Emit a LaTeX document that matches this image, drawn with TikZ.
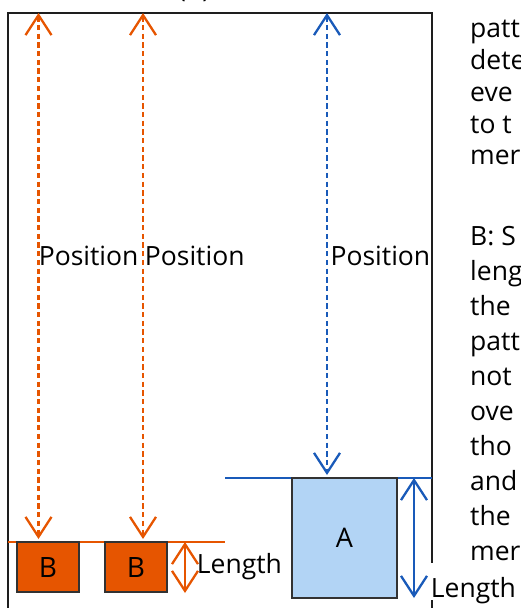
\documentclass[tikz,border=0pt]{standalone}
\usepackage{fontspec}
\setmainfont{Open Sans}
\usetikzlibrary{arrows.meta}
\definecolor{orng}{RGB}{230,85,0}
\definecolor{blu}{RGB}{25,90,185}
\definecolor{lblue}{RGB}{178,212,245}
\definecolor{frm}{RGB}{30,30,30}
\definecolor{boxedge}{RGB}{50,50,50}
\begin{document}
\begin{tikzpicture}[x=1pt,y=-1pt,
  barb/.tip={Straight Barb[length=20pt,width=26pt,line width=2.3pt]},
  frameline/.style={draw=frm,line width=1.8pt},
  posarrow/.style={line width=2.8pt,dash pattern=on 5.3pt off 3.4pt,{barb}-{barb}},
  lenarrow/.style={line width=2.3pt,{barb}-{barb}},
  levelline/.style={line width=2.4pt},
  bigfont/.style={font=\fontsize{26.5pt}{31pt}\selectfont},
  lab/.style={bigfont,inner sep=0pt,anchor=base west},
  rtext/.style={bigfont,inner sep=0pt,anchor=base west,text=black},
  bbox/.style={draw=boxedge,line width=1.5pt,fill=orng,inner sep=0pt,
    minimum width=62pt,minimum height=50pt,font=\fontsize{28pt}{32pt}\selectfont},
  abox/.style={draw=boxedge,line width=1.5pt,fill=lblue,inner sep=0pt,
    minimum width=105pt,minimum height=120pt,font=\fontsize{27pt}{32pt}\selectfont},
  lenlab/.style={bigfont,anchor=base west,fill=white,inner xsep=2pt,inner ysep=3pt,
    text height=31pt,text depth=0pt}
]
\useasboundingbox (0,0) rectangle (520,608);
% partially visible panel label
\node[lab] (plabel) at (178,-3) {(b)};
% frame
\coordinate (ftl) at (8,13);
\coordinate (ftr) at (432,13);
\coordinate (fbl) at (8,620);
\coordinate (fbr) at (432,620);
\draw[frameline] (fbl) -- (ftl) -- (ftr) -- (fbr);
% level lines
\coordinate (ol0) at (8,542);
\coordinate (ol1) at (225,542);
\coordinate (bl0) at (225,478);
\coordinate (bl1) at (432,478);
\draw[levelline,orng] (ol0) -- (ol1);
\draw[levelline,blu] (bl0) -- (bl1);
% boxes
\node[bbox] (b1) at (48,567) {B};
\node[bbox] (b2) at (136,567) {B};
\node[abox] (a) at (344.5,538) {A};
% position arrows
\coordinate (p1t) at (38.5,13);
\coordinate (p1b) at (38.5,539);
\coordinate (p2t) at (143,13);
\coordinate (p2b) at (143,539);
\coordinate (p3t) at (327,13);
\coordinate (p3b) at (327,475);
\draw[posarrow,orng] (p1t) -- (p1b);
\draw[posarrow,orng] (p2t) -- (p2b);
\draw[posarrow,blu] (p3t) -- (p3b);
\node[lab] (pl1) at (38.6,265) {Position};
\node[lab] (pl2) at (144.7,265) {Position};
\node[lab] (pl3) at (330.4,265) {Position};
% length arrows
\coordinate (l1t) at (185,542);
\coordinate (l1b) at (185,593);
\coordinate (l2t) at (414,478);
\coordinate (l2b) at (414,598);
\draw[lenarrow,orng] (l1t) -- (l1b);
\draw[lenarrow,blu] (l2t) -- (l2b);
\node[lab] (ll1) at (196.7,573) {Length};
\node[lenlab] (ll2) at (428.7,597) {Length};
% right-hand text (cut off)
\foreach \yy/\txt [count=\i] in {37/patt,69/dete,101/eve,133/to t,164/mer,
  245/B: S,280/leng,315/the,350/patt,385/not,420/ove,455/tho,490/and,525/the,560/mer}
  \node[rtext] (r\i) at (470,\yy) {\txt};
\end{tikzpicture}
\end{document}
